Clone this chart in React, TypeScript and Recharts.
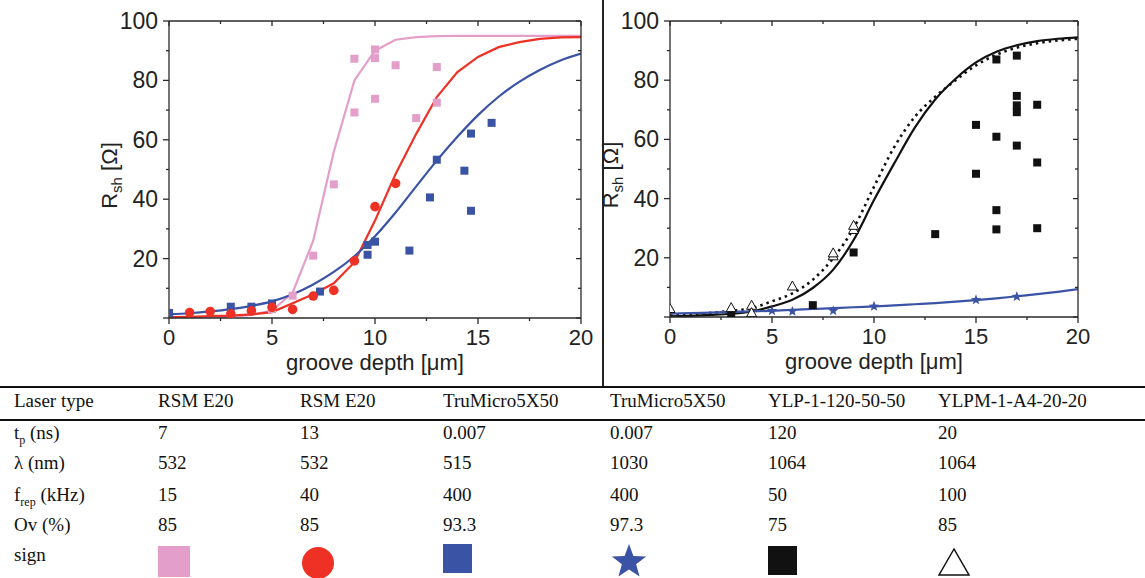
import React from 'react';
import { ComposedChart, Line, Scatter, XAxis, YAxis } from 'recharts';

// ---- data ----
const depthGrid = [0, 1, 2, 3, 4, 5, 6, 7, 8, 9, 10, 11, 12, 13, 14, 15, 16, 17, 18, 19, 20];

// left panel
const pinkFit = [0.1, 0.1, 0.2, 0.4, 1.0, 2.5, 8.5, 26, 56, 80, 90, 93.7, 94.6, 94.9, 95, 95, 95, 95, 95, 95, 95];
const redFit = [0.3, 0.4, 0.6, 0.8, 1.2, 2.0, 5.0, 8.0, 11.7, 18.8, 32.8, 48.5, 62, 74.4, 82.8, 87.9, 91.2, 92.9, 94, 94.5, 94.6];
const blueFit = [1.2, 1.6, 2.2, 3.0, 4.1, 5.6, 8, 11.3, 15.5, 20.8, 27.5, 35.5, 44.3, 53, 61, 68.3, 74.5, 79.5, 83.5, 86.7, 89];

const pinkPoints = [[5, 3], [6, 7.5], [7, 21], [8, 45], [9, 87.3], [9, 69.2], [10, 90.4], [10, 87.5], [10, 73.8], [11, 85.1], [12, 67.3], [13, 84.5], [13, 72.5]];
const redPoints = [[1, 1.8], [2, 2.2], [3, 1.4], [4, 2.4], [5, 3.6], [6, 2.9], [7, 7.4], [8, 9.3], [9, 19.2], [10, 37.5], [11, 45.3]];
const bluePoints = [[0, 1.7], [3, 3.8], [4, 3.8], [5, 4.9], [7.33, 8.9], [9.64, 24.6], [9.64, 21.3], [10, 25.7], [11.67, 22.7], [12.67, 40.6], [13, 53.3], [14.34, 49.6], [14.66, 62.1], [14.66, 36.1], [15.66, 65.7]];

// right panel
const blackFit = [0.2, 0.4, 0.7, 1.1, 1.9, 3.6, 5.8, 9.8, 16, 26, 39.5, 52, 64, 73.5, 80.5, 86, 89.6, 91.8, 93.2, 94, 94.5];
const blackDotFit = [0.8, 1.0, 1.4, 2.1, 3.0, 5.3, 8, 12.6, 19.9, 30, 44, 57.5, 67.6, 74.4, 80, 85, 88.6, 91, 92.5, 93.4, 94];
const starFit = [1.1, 1.3, 1.5, 1.7, 1.9, 2.1, 2.4, 2.7, 3.0, 3.3, 3.6, 3.9, 4.3, 4.7, 5.2, 5.7, 6.3, 7.0, 7.7, 8.5, 9.4];

const blackPoints = [[3, 0.7], [7, 4], [9, 21.8], [13, 28], [15, 64.9], [15, 48.4], [16, 87], [16, 60.9], [16, 36.1], [16, 29.6], [17, 88.3], [17, 74.7], [17, 71.5], [17, 69.2], [17, 57.9], [18, 71.7], [18, 52.2], [18, 30]];
const trianglePoints = [[0, 2.7], [3, 3], [4, 3.8], [4, 1.3], [6, 10.3], [8, 20.5], [8, 21.5], [9, 29.4], [9, 30.8]];
const starPoints = [[5, 2.1], [6, 1.9], [8, 2.1], [10, 3.6], [15, 5.8], [17, 6.9]];

// axes
const xTicks = [0, 2.5, 5, 7.5, 10, 12.5, 15, 17.5, 20];
const xLabels = [0, 5, 10, 15, 20];
const yTicks = [0, 10, 20, 30, 40, 50, 60, 70, 80, 90, 100];
const yLabels = [20, 40, 60, 80, 100];

// table
const laserTypes = ['RSM E20', 'RSM E20', 'TruMicro5X50', 'TruMicro5X50', 'YLP-1-120-50-50', 'YLPM-1-A4-20-20'];
const pulseDurations = ['7', '13', '0.007', '0.007', '120', '20'];
const wavelengths = ['532', '532', '515', '1030', '1064', '1064'];
const repRates = ['15', '40', '400', '400', '50', '100'];
const overlaps = ['85', '85', '93.3', '97.3', '75', '85'];

const PINK = '#e39fca';
const RED = '#ee3124';
const BLUE = '#3a53a4';
const BLACK = '#111111';
const AXIS = '#2a2a2a';
const SANS = '"Liberation Sans", Arial, sans-serif';
const SERIF = '"Liberation Serif", "Times New Roman", serif';

const toPts = (arr: number[][]) => arr.map(([x, y]) => ({ x, y }));
const toLine = (ys: number[]) => depthGrid.map((x, i) => ({ x, y: ys[i] }));

const square = (color: string, s = 8) => (p: any) =>
  <rect x={p.cx - s / 2} y={p.cy - s / 2} width={s} height={s} fill={color} />;
const dot = (p: any) => <circle cx={p.cx} cy={p.cy} r={4.8} fill={RED} />;
const triangle = (p: any) => (
  <polygon
    points={`${p.cx},${p.cy - 5.5} ${p.cx - 5},${p.cy + 3.5} ${p.cx + 5},${p.cy + 3.5}`}
    fill="#fff" stroke={BLACK} strokeWidth={1}
  />
);
const starPath = (cx: number, cy: number, R: number, r: number) => {
  const pts: string[] = [];
  for (let i = 0; i < 10; i++) {
    const a = -Math.PI / 2 + (i * Math.PI) / 5;
    const rad = i % 2 === 0 ? R : r;
    pts.push(`${cx + rad * Math.cos(a)},${cy + rad * Math.sin(a)}`);
  }
  return pts.join(' ');
};
const star = (p: any) => <polygon points={starPath(p.cx, p.cy, 5.5, 2.3)} fill={BLUE} />;

// ---- ticks (Origin style: out on bottom/left, in on top/right) ----
const BottomTick = (p: any) => {
  const v = p.payload.value;
  const major = xLabels.includes(v);
  return (
    <g>
      <line x1={p.x} y1={p.y} x2={p.x} y2={p.y + (major ? 6 : 3)} stroke={AXIS} strokeWidth={1.3} />
      {major && <text x={p.x} y={p.y + 27} textAnchor="middle" fontSize={22} fontFamily={SANS} fill="#222">{v}</text>}
    </g>
  );
};
const LeftTick = (p: any) => {
  const v = p.payload.value;
  const major = v % 20 === 0;
  return (
    <g>
      <line x1={p.x} y1={p.y} x2={p.x - (major ? 6 : 3)} y2={p.y} stroke={AXIS} strokeWidth={1.3} />
      {yLabels.includes(v) && <text x={p.x - 11} y={p.y + 8} textAnchor="end" fontSize={23} fontFamily={SANS} fill="#222">{v}</text>}
    </g>
  );
};
const TopTick = (p: any) => {
  const major = xLabels.includes(p.payload.value);
  return <line x1={p.x} y1={p.y} x2={p.x} y2={p.y + (major ? 5 : 3)} stroke={AXIS} strokeWidth={1.3} />;
};
const RightTick = (p: any) => {
  const major = p.payload.value % 20 === 0;
  return <line x1={p.x} y1={p.y} x2={p.x - (major ? 5 : 3)} y2={p.y} stroke={AXIS} strokeWidth={1.3} />;
};

const XTitle = (p: any) => {
  const vb = p.viewBox;
  return (
    <text x={vb.x + vb.width / 2} y={vb.y + 52} textAnchor="middle" fontSize={22} fontFamily={SANS} fill="#222">
      groove depth [μm]
    </text>
  );
};
const YTitle = (p: any) => {
  const vb = p.viewBox;
  const cx = vb.x + vb.width - 52;
  const cy = vb.y + vb.height / 2 + 6;
  return (
    <text x={cx} y={cy} transform={`rotate(-90, ${cx}, ${cy})`} textAnchor="middle" fontSize={22} fontFamily={SANS} fill="#222">
      <tspan>R</tspan>
      <tspan fontSize={15} dy={5}>sh</tspan>
      <tspan dy={-5}> [Ω]</tspan>
    </text>
  );
};

type FitLine = { ys: number[]; color: string; dash?: string; kind?: 'linear' | 'monotone' };
type PointSet = { pts: number[][]; shape: any };

// axis boxes: bottom 40px, left 60px, top/right 2px; remaining offsets go into the margin
const Panel = ({ width, margin, fits, points }: { width: number; margin: any; fits: FitLine[]; points: PointSet[] }) => (
  <ComposedChart width={width} height={380} margin={margin}>
    <XAxis
      dataKey="x" type="number" domain={[0, 20]} allowDataOverflow ticks={xTicks} interval={0}
      height={40} tickSize={0} tickMargin={0} tickLine={false} tick={BottomTick}
      axisLine={{ stroke: AXIS, strokeWidth: 1.3 }} label={XTitle}
    />
    <XAxis
      xAxisId="top" orientation="top" dataKey="x" type="number" domain={[0, 20]} allowDataOverflow ticks={xTicks} interval={0}
      height={2} tickSize={0} tickMargin={0} tickLine={false} tick={TopTick}
      axisLine={{ stroke: AXIS, strokeWidth: 1.3 }}
    />
    <YAxis
      dataKey="y" type="number" domain={[0, 100]} allowDataOverflow ticks={yTicks} interval={0}
      width={60} tickSize={0} tickMargin={0} tickLine={false} tick={LeftTick}
      axisLine={{ stroke: AXIS, strokeWidth: 1.3 }} label={YTitle}
    />
    <YAxis
      yAxisId="right" orientation="right" dataKey="y" type="number" domain={[0, 100]} allowDataOverflow ticks={yTicks} interval={0}
      width={2} tickSize={0} tickMargin={0} tickLine={false} tick={RightTick}
      axisLine={{ stroke: AXIS, strokeWidth: 1.3 }}
    />
    {fits.map((f, i) => (
      <Line
        key={`fit-${i}`} data={toLine(f.ys)} dataKey="y" type={f.kind ?? 'monotone'} stroke={f.color}
        strokeWidth={f.dash ? 2.6 : 2.2} strokeDasharray={f.dash} dot={false} activeDot={false} isAnimationActive={false}
      />
    ))}
    {points.map((s, i) => (
      <Scatter key={`pts-${i}`} data={toPts(s.pts)} dataKey="y" shape={s.shape} isAnimationActive={false} />
    ))}
  </ComposedChart>
);

const rowLabels: React.ReactNode[] = [
  <>t<sub style={{ fontSize: 12 }}>p</sub> (ns)</>,
  <>λ (nm)</>,
  <>f<sub style={{ fontSize: 12 }}>rep</sub> (kHz)</>,
  <>Ov (%)</>,
];
const rowValues = [pulseDurations, wavelengths, repRates, overlaps];
const rowCenters = [433, 463, 495, 525];
const colX = [158, 300, 443, 610, 768, 938];

const cell = (left: number, center: number, content: React.ReactNode, key: string) => (
  <div key={key} style={{ position: 'absolute', left, top: center - 12, height: 24, lineHeight: '24px', fontSize: 19, fontFamily: SERIF, color: '#111', whiteSpace: 'nowrap' }}>
    {content}
  </div>
);

export default function App() {
  return (
    <div style={{ position: 'absolute', left: 0, top: 0, width: 1145, height: 578, background: '#fff', overflow: 'hidden' }}>
      <div style={{ position: 'absolute', left: 0, top: 0 }}>
        <Panel
          width={600}
          margin={{ top: 19, right: 17, bottom: 22, left: 109 }}
          fits={[
            { ys: pinkFit, color: PINK, kind: 'linear' },
            { ys: redFit, color: RED, kind: 'linear' },
            { ys: blueFit, color: BLUE },
          ]}
          points={[
            { pts: pinkPoints, shape: square(PINK, 8) },
            { pts: bluePoints, shape: square(BLUE, 8) },
            { pts: redPoints, shape: dot },
          ]}
        />
      </div>
      <div style={{ position: 'absolute', left: 590, top: 0 }}>
        <Panel
          width={555}
          margin={{ top: 19, right: 65, bottom: 23, left: 20 }}
          fits={[
            { ys: blackFit, color: BLACK },
            { ys: blackDotFit, color: BLACK, dash: '2.5 4' },
            { ys: starFit, color: BLUE },
          ]}
          points={[
            { pts: blackPoints, shape: square(BLACK, 8) },
            { pts: trianglePoints, shape: triangle },
            { pts: starPoints, shape: star },
          ]}
        />
      </div>
      <div style={{ position: 'absolute', left: 602, top: 0, width: 1.5, height: 387, background: '#222' }} />

      {/* table */}
      <div style={{ position: 'absolute', left: 0, top: 386, width: 1145, height: 2, background: '#111' }} />
      <div style={{ position: 'absolute', left: 0, top: 419, width: 1145, height: 1.5, background: '#111' }} />
      {cell(14, 401, 'Laser type', 'h')}
      {laserTypes.map((t, i) => cell(colX[i], 401, t, `h${i}`))}
      {rowLabels.map((lab, r) => (
        <React.Fragment key={`r${r}`}>
          {cell(14, rowCenters[r], lab, `l${r}`)}
          {rowValues[r].map((v, i) => cell(colX[i], rowCenters[r], v, `v${r}-${i}`))}
        </React.Fragment>
      ))}
      {cell(14, 555, 'sign', 'sign')}
      <svg style={{ position: 'absolute', left: 0, top: 540 }} width={1145} height={38}>
        <rect x={158} y={6} width={32} height={31} fill={PINK} />
        <circle cx={318} cy={23} r={16} fill={RED} />
        <rect x={443} y={4} width={29} height={29} fill={BLUE} />
        <polygon points={starPath(629, 22, 18, 7.5)} fill={BLUE} />
        <rect x={768} y={6} width={29} height={29} fill={BLACK} />
        <polygon points="954,9 939,35 969,35" fill="#fff" stroke={BLACK} strokeWidth={1.5} />
      </svg>
    </div>
  );
}
